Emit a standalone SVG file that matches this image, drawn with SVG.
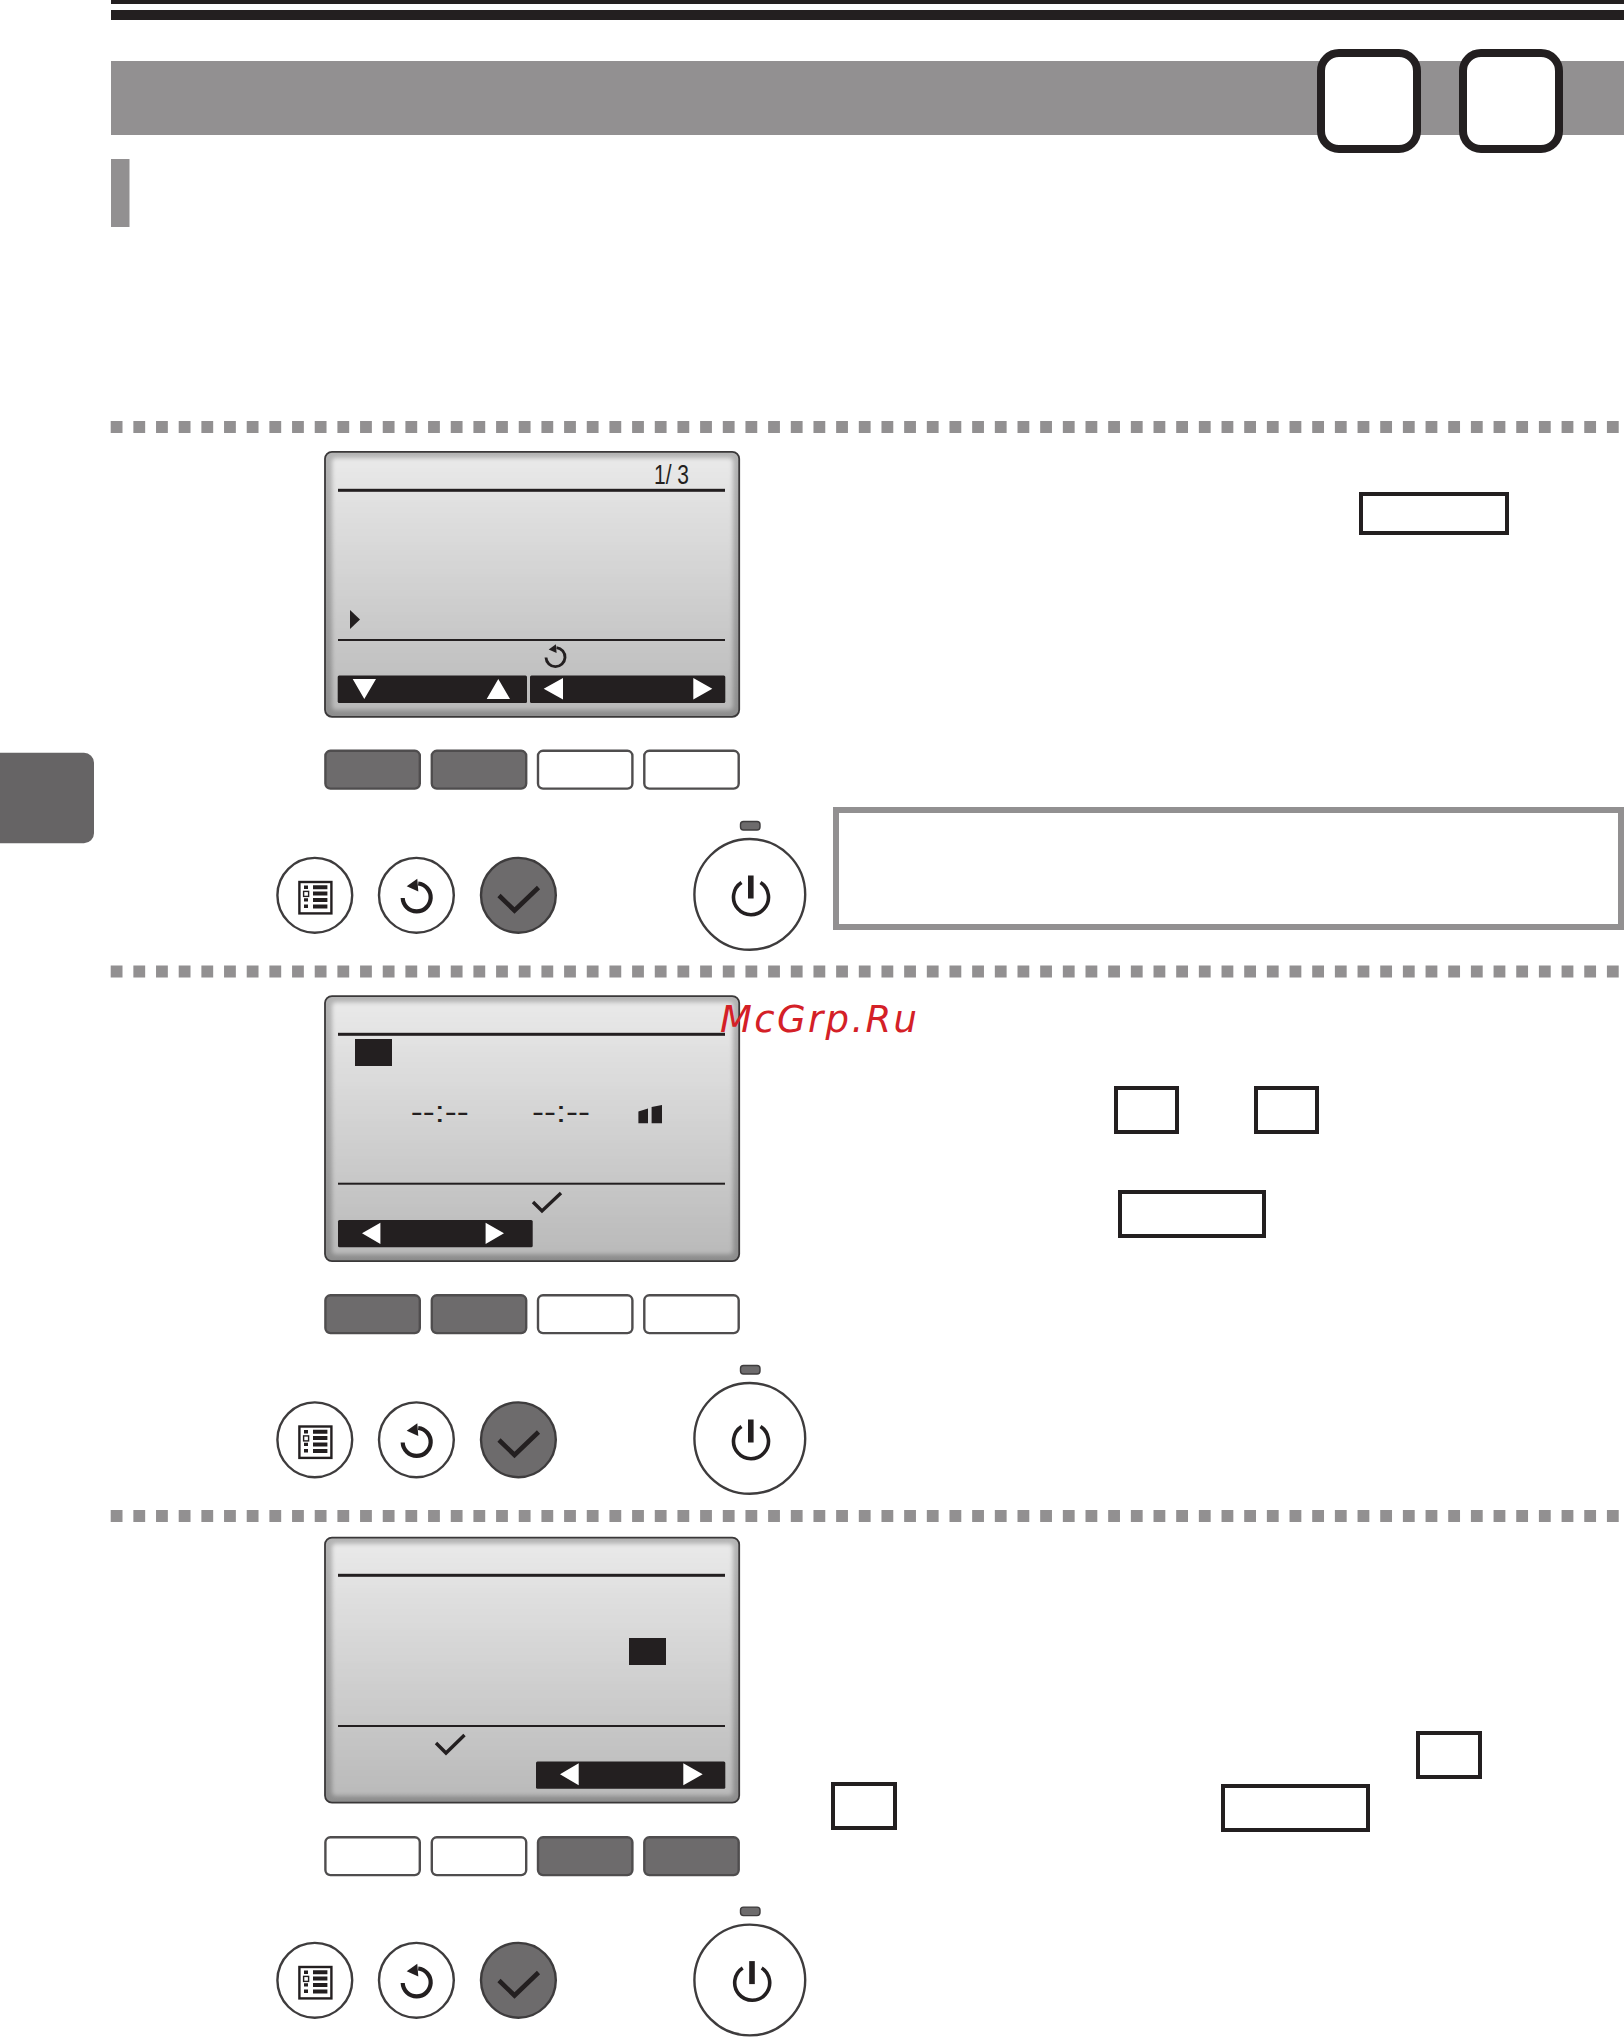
<svg xmlns="http://www.w3.org/2000/svg" xmlns:xlink="http://www.w3.org/1999/xlink" width="1624" height="2037" viewBox="0 0 1624 2037">
<style>
.k{fill:#231f20}
.g{fill:#929091}
.wt{fill:#fff}
.box{fill:#fff;stroke:#231f20;stroke-width:4}
.btn{stroke:#4f4d4e;stroke-width:2.4}
.dk{fill:#6d6b6c}
.lt{fill:#fff}
.ln{stroke:#231f20;fill:none}
.circ{stroke:#3e3c3d;stroke-width:2.4}
.sep{stroke:#929091;stroke-width:12;stroke-dasharray:11.8 10.87}
</style>
<defs>
<linearGradient id="lcd" x1="0" y1="0" x2="0" y2="1"><stop offset="0" stop-color="#e9e9e9"/><stop offset="1" stop-color="#bababa"/></linearGradient>
<linearGradient id="rim" x1="0" y1="0" x2="0" y2="1"><stop offset="0" stop-color="#b4b4b4"/><stop offset="1" stop-color="#8d8d8d"/></linearGradient>
<filter id="soft" x="-5%" y="-5%" width="110%" height="110%"><feGaussianBlur stdDeviation="2"/></filter>
<g id="screen">
<rect x="325" y="451.800" width="414.200" height="265" rx="7" fill="url(#rim)" stroke="#3a3839" stroke-width="1.800"/>
<rect x="332" y="458" width="401" height="252" rx="4" fill="url(#lcd)" filter="url(#soft)"/>
</g>
<g id="keys-grey-first">
<rect class="btn dk" x="325.400" y="750.800" width="94.400" height="37.800" rx="5"/>
<rect class="btn dk" x="431.800" y="750.800" width="94.400" height="37.800" rx="5"/>
<rect class="btn lt" x="538" y="750.800" width="94.400" height="37.800" rx="5"/>
<rect class="btn lt" x="644.300" y="750.800" width="94.400" height="37.800" rx="5"/>
</g>
<g id="keys-grey-last">
<rect class="btn lt" x="325.400" y="750.800" width="94.400" height="37.800" rx="5"/>
<rect class="btn lt" x="431.800" y="750.800" width="94.400" height="37.800" rx="5"/>
<rect class="btn dk" x="538" y="750.800" width="94.400" height="37.800" rx="5"/>
<rect class="btn dk" x="644.300" y="750.800" width="94.400" height="37.800" rx="5"/>
</g>
<g id="ret">
<path class="ln" d="M1.500 -13.500A14 14 0 1 1 -14 1" stroke-width="4.200"/>
<path class="k" d="M0.600 -18.300L-10 -10.800L1.600 -5.600Z"/>
</g>
<g id="round-keys">
<circle class="circ" cx="314.800" cy="895.300" r="37.400" fill="#fff"/>
<rect x="299.400" y="882" width="32" height="31.400" fill="#fff" stroke="#231f20" stroke-width="2.400"/>
<path class="k" d="M304 885.600h4v3.400h-4zM304 904.600h4v3.400h-4zM304 898.200h4v3.400h-4zM313 885.200h14.400v4h-14.400zM313 891.600h14.400v4h-14.400zM313 898h14.400v4h-14.400zM313 904.400h14.400v4h-14.400z"/>
<rect x="303.600" y="891.400" width="5" height="5" fill="#fff" stroke="#231f20" stroke-width="1.400"/>
<circle class="circ" cx="416.400" cy="895.300" r="37.400" fill="#fff"/>
<use xlink:href="#ret" href="#ret" x="416.700" y="897"/>
<circle class="circ dk" cx="518.400" cy="895.300" r="37.400"/>
<path class="ln" d="M499 895.500L514.500 910.500L538.500 887.500" stroke-width="4.600"/>
</g>
<g id="power-body">
<rect x="740.500" y="821.500" width="19.500" height="8.500" rx="3" fill="#6d6b6c" stroke="#3e3c3d" stroke-width="1.400"/>
<circle class="circ" cx="749.800" cy="894.400" r="55.400" fill="#fff" stroke-width="3"/>
</g>
<g id="power-glyph">
<path class="ln" d="M741.500 882.500A17.500 17.500 0 1 0 760.500 882.500" stroke-width="3.600"/>
<rect class="k" x="748" y="875.500" width="5.600" height="23"/>
</g>
</defs>

<g id="header">
<rect class="k" x="111" y="0" width="1513" height="4"/>
<rect class="k" x="111" y="10" width="1513" height="10"/>
<rect class="g" x="111" y="61" width="1513" height="74"/>
<rect class="g" x="111" y="159" width="18.500" height="68"/>
</g>
<g id="badge-1"><rect x="1321" y="53" width="96" height="96" rx="18" fill="#fff" stroke="#231f20" stroke-width="8"/></g>
<g id="badge-2"><rect x="1463" y="53" width="96" height="96" rx="18" fill="#fff" stroke="#231f20" stroke-width="8"/></g>
<g id="side-tab"><path fill="#666465" d="M0 752.700H84A10 10 0 0 1 94 762.700V833.300A10 10 0 0 1 84 843.300H0Z"/></g>

<g id="separators">
<line class="sep" x1="110.700" y1="427" x2="1619" y2="427"/>
<line class="sep" x1="110.700" y1="971.500" x2="1619" y2="971.500"/>
<line class="sep" x1="110.700" y1="1516" x2="1619" y2="1516"/>
</g>

<g id="panel-1">
<use xlink:href="#screen" href="#screen"/>
<rect class="k" x="338" y="488.800" width="387" height="3"/>
<rect class="k" x="338" y="639" width="387" height="2"/>
<text x="654" y="484" font-family="'Liberation Sans',sans-serif" font-size="27" fill="#231f20" textLength="35" lengthAdjust="spacingAndGlyphs">1/ 3</text>
<path class="k" d="M350 610L360 619.500L350 629Z"/>
<use xlink:href="#ret" href="#ret" transform="translate(555.500 656.800) scale(.68)"/>
<rect class="k" x="337.700" y="675.500" width="189.300" height="27.500" rx="1.500"/>
<rect class="k" x="530" y="675.500" width="195.300" height="27.500" rx="1.500"/>
<path class="wt" d="M352.700 679H376L364.300 699ZM498.300 679L510 699H486.700ZM563 678V699.600L543.700 688.800ZM693.300 678L712.300 688.800L693.300 699.600Z"/>
<use xlink:href="#keys-grey-first" href="#keys-grey-first"/>
<use xlink:href="#round-keys" href="#round-keys"/>
<use xlink:href="#power-body" href="#power-body"/>
<use xlink:href="#power-glyph" href="#power-glyph"/>
</g>

<g id="panel-2">
<use xlink:href="#screen" href="#screen" y="544.300"/>
<rect class="k" x="338" y="1032.800" width="387" height="3"/>
<rect class="k" x="338" y="1182.700" width="387" height="2"/>
<rect class="k" x="355" y="1039" width="37" height="27"/>
<text x="410.700" y="1122" font-family="'Liberation Sans',sans-serif" font-size="30" fill="#231f20" textLength="58" lengthAdjust="spacingAndGlyphs">--:--</text>
<text x="532" y="1122" font-family="'Liberation Sans',sans-serif" font-size="30" fill="#231f20" textLength="58" lengthAdjust="spacingAndGlyphs">--:--</text>
<path class="k" d="M638.400 1111.500L648 1108.500V1123.300H638.400ZM651.600 1107L662 1105V1123.300H651.600Z"/>
<path class="ln" d="M533 1202L542 1211L561 1193" stroke-width="3.400"/>
<rect class="k" x="338" y="1220" width="194.700" height="27.300" rx="1.500"/>
<path class="wt" d="M380.400 1222.700V1244L362 1233.300ZM485.600 1222.700L504 1233.300L485.600 1244Z"/>
<use xlink:href="#keys-grey-first" href="#keys-grey-first" y="544.500"/>
<use xlink:href="#round-keys" href="#round-keys" y="544.500"/>
<use xlink:href="#power-body" href="#power-body" y="544"/>
<use xlink:href="#power-glyph" href="#power-glyph" y="544"/>
</g>

<g id="panel-3">
<use xlink:href="#screen" href="#screen" y="1085.800"/>
<rect class="k" x="338" y="1573.800" width="387" height="3"/>
<rect class="k" x="338" y="1725" width="387" height="2"/>
<rect class="k" x="629" y="1638" width="37" height="27"/>
<path class="ln" d="M436 1743L446 1753L464.500 1735" stroke-width="3.400"/>
<rect class="k" x="536" y="1761.500" width="189.300" height="27.200" rx="1.500"/>
<path class="wt" d="M578.700 1763.300V1785.300L560 1774.300ZM683.300 1763.300L702.700 1774.300L683.300 1785.300Z"/>
<use xlink:href="#keys-grey-last" href="#keys-grey-last" y="1086.500"/>
<use xlink:href="#round-keys" href="#round-keys" y="1085"/>
<use xlink:href="#power-body" href="#power-body" y="1085.600"/>
<use xlink:href="#power-glyph" href="#power-glyph" x="1.200" y="1085.600"/>
</g>

<g id="note-box"><rect x="836" y="810" width="785" height="117" fill="#fff" stroke="#929091" stroke-width="6"/></g>
<g id="label-box-1"><rect class="box" x="1361" y="494" width="146" height="39"/></g>
<g id="label-box-2"><rect class="box" x="1116" y="1088" width="61" height="44"/></g>
<g id="label-box-3"><rect class="box" x="1256" y="1088" width="61" height="44"/></g>
<g id="label-box-4"><rect class="box" x="1120" y="1192" width="144" height="44"/></g>
<g id="label-box-5"><rect class="box" x="1418" y="1733" width="62" height="44"/></g>
<g id="label-box-6"><rect class="box" x="833" y="1784" width="62" height="44"/></g>
<g id="label-box-7"><rect class="box" x="1223" y="1786" width="145" height="44"/></g>

<text id="watermark" x="720" y="1032" font-family="'DejaVu Sans',sans-serif" font-style="italic" font-size="37" fill="#d42027" textLength="197" lengthAdjust="spacing">McGrp.Ru</text>
</svg>
